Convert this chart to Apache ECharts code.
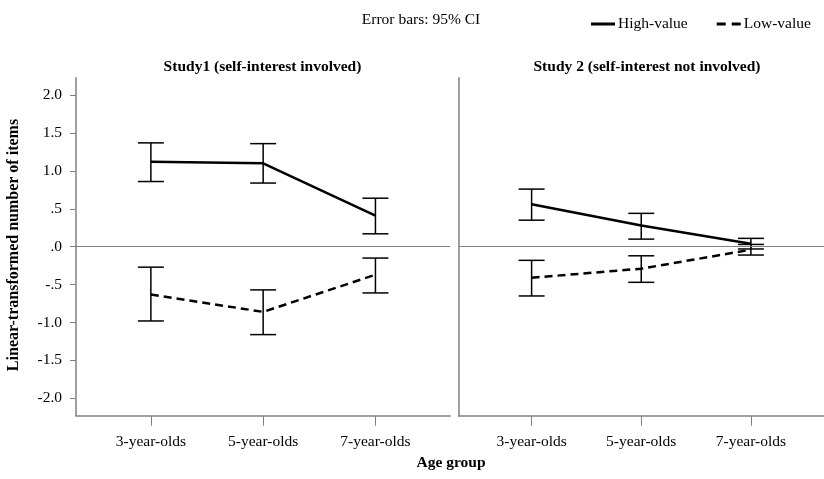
<!DOCTYPE html>
<html>
<head>
<meta charset="utf-8">
<script src="https://cdn.jsdelivr.net/npm/echarts@6/dist/echarts.min.js"></script>
<style>
html,body{margin:0;padding:0;background:#fff;}
#chart{width:824px;height:479px;}
</style>
</head>
<body>
<div id="chart"></div>
<script>
const categories = ['3-year-olds', '5-year-olds', '7-year-olds'];
const yTicks = [-2, -1.5, -1, -0.5, 0, 0.5, 1, 1.5, 2];

// Study 1 (self-interest involved)
const s1High = [1.12, 1.10, 0.41];
const s1HighLo = [0.86, 0.84, 0.17];
const s1HighHi = [1.37, 1.36, 0.64];
const s1Low = [-0.63, -0.86, -0.37];
const s1LowLo = [-0.98, -1.16, -0.61];
const s1LowHi = [-0.27, -0.57, -0.15];

// Study 2 (self-interest not involved)
const s2High = [0.56, 0.28, 0.04];
const s2HighLo = [0.35, 0.10, -0.03];
const s2HighHi = [0.76, 0.44, 0.11];
const s2Low = [-0.41, -0.29, -0.04];
const s2LowLo = [-0.65, -0.47, -0.11];
const s2LowHi = [-0.18, -0.12, 0.03];

const FONT = '"Liberation Serif", "Times New Roman", serif';
const FS = 15.5;
const AXIS_COLOR = '#808080';

function pts(vals) { return categories.map((c, i) => [i + 1, vals[i]]); }
function ci(lo, hi) { return categories.map((c, i) => [i + 1, lo[i], hi[i]]); }

function renderErr(params, api) {
  const x = api.value(0), lo = api.value(1), hi = api.value(2);
  const a = api.coord([x, hi]), b = api.coord([x, lo]);
  const hw = 13;
  const st = { stroke: '#000', lineWidth: 1.5 };
  return {
    type: 'group',
    children: [
      { type: 'line', shape: { x1: a[0], y1: a[1], x2: b[0], y2: b[1] }, style: st },
      { type: 'line', shape: { x1: a[0] - hw, y1: a[1], x2: a[0] + hw, y2: a[1] }, style: st },
      { type: 'line', shape: { x1: b[0] - hw, y1: b[1], x2: b[0] + hw, y2: b[1] }, style: st }
    ]
  };
}

function yLabel(v) {
  return Number(v).toFixed(1).replace(/^(-?)0\./, '$1.');
}

function xAxisDef(gi) {
  return {
    type: 'value', gridIndex: gi, min: 1 / 3, max: 11 / 3,
    axisLine: { show: true, onZero: false, lineStyle: { color: AXIS_COLOR, width: 1.5 } },
    axisTick: { show: true, length: 10, customValues: [1, 2, 3], lineStyle: { color: AXIS_COLOR, width: 1 } },
    axisLabel: {
      show: true, customValues: [1, 2, 3], margin: 18,
      formatter: v => categories[Math.round(v) - 1] || '',
      color: '#000', fontSize: FS, fontFamily: FONT
    },
    splitLine: { show: false }
  };
}

function yAxisDef(gi, showLabels) {
  return {
    type: 'value', gridIndex: gi, min: -2.23, max: 2.23,
    axisLine: { show: true, onZero: false, lineStyle: { color: AXIS_COLOR, width: 1.5 } },
    axisTick: { show: showLabels, length: 6, customValues: yTicks, lineStyle: { color: AXIS_COLOR, width: 1 } },
    axisLabel: {
      show: showLabels, customValues: yTicks, margin: 14,
      formatter: yLabel, color: '#000', fontSize: FS, fontFamily: FONT
    },
    splitLine: { show: false }
  };
}

const zeroLine = {
  silent: true, symbol: 'none', label: { show: false },
  lineStyle: { color: AXIS_COLOR, width: 1.2, type: 'solid' },
  data: [{ yAxis: 0 }]
};

function lineSeries(name, gi, vals, dashed, withZero) {
  const s = {
    name: name, type: 'line', xAxisIndex: gi, yAxisIndex: gi,
    data: pts(vals), symbol: 'none', showSymbol: false,
    lineStyle: { color: '#000', width: 2.5, type: dashed ? [8, 5] : 'solid' },
    itemStyle: { color: '#000' },
    z: 3
  };
  if (withZero) s.markLine = zeroLine;
  return s;
}

function errSeries(name, gi, lo, hi) {
  return {
    name: name, type: 'custom', xAxisIndex: gi, yAxisIndex: gi,
    renderItem: renderErr, data: ci(lo, hi),
    encode: { x: 0, y: [1, 2] }, z: 2
  };
}

const chart = echarts.init(document.getElementById('chart'), null, { renderer: 'canvas' });
chart.setOption({
  backgroundColor: '#fff',
  animation: false,
  grid: [
    { left: 76, top: 77.7, width: 374.3, height: 338 },
    { left: 458.5, top: 77.7, width: 374.3, height: 338 }
  ],
  xAxis: [xAxisDef(0), xAxisDef(1)],
  yAxis: [yAxisDef(0, true), yAxisDef(1, false)],
  legend: {
    data: [
      { name: 'High-value', icon: 'path://M0,0H24V3H0Z' },
      { name: 'Low-value', icon: 'path://M0,0H9V3H0Z M15,0H24V3H15Z' }
    ],
    left: 586, top: 11,
    itemWidth: 24, itemHeight: 3, itemGap: 29,
    itemStyle: { color: '#000', borderWidth: 0 },
    textStyle: { color: '#000', fontSize: FS, fontFamily: FONT, padding: [0, 0, 0, -2] },
    selectedMode: false
  },
  graphic: [
    { type: 'text', x: 421, y: 20, style: { text: 'Error bars: 95% CI', align: 'center', verticalAlign: 'middle', fontSize: FS, fontFamily: FONT, fill: '#000' } },
    { type: 'text', x: 262.5, y: 67, style: { text: 'Study1 (self-interest involved)', align: 'center', verticalAlign: 'middle', fontSize: FS, fontWeight: 'bold', fontFamily: FONT, fill: '#000' } },
    { type: 'text', x: 647, y: 67, style: { text: 'Study 2 (self-interest not involved)', align: 'center', verticalAlign: 'middle', fontSize: FS, fontWeight: 'bold', fontFamily: FONT, fill: '#000' } },
    { type: 'text', x: 451, y: 463, style: { text: 'Age group', align: 'center', verticalAlign: 'middle', fontSize: FS, fontWeight: 'bold', fontFamily: FONT, fill: '#000' } },
    { type: 'text', x: 14, y: 245, rotation: Math.PI / 2, style: { text: 'Linear-transformed number of items', align: 'center', verticalAlign: 'middle', fontSize: 16, fontWeight: 'bold', fontFamily: FONT, fill: '#000' } }
  ],
  series: [
    errSeries('High CI 1', 0, s1HighLo, s1HighHi),
    errSeries('Low CI 1', 0, s1LowLo, s1LowHi),
    lineSeries('High-value', 0, s1High, false, true),
    lineSeries('Low-value', 0, s1Low, true, false),
    errSeries('High CI 2', 1, s2HighLo, s2HighHi),
    errSeries('Low CI 2', 1, s2LowLo, s2LowHi),
    lineSeries('High-value', 1, s2High, false, true),
    lineSeries('Low-value', 1, s2Low, true, false)
  ]
});
</script>
</body>
</html>
